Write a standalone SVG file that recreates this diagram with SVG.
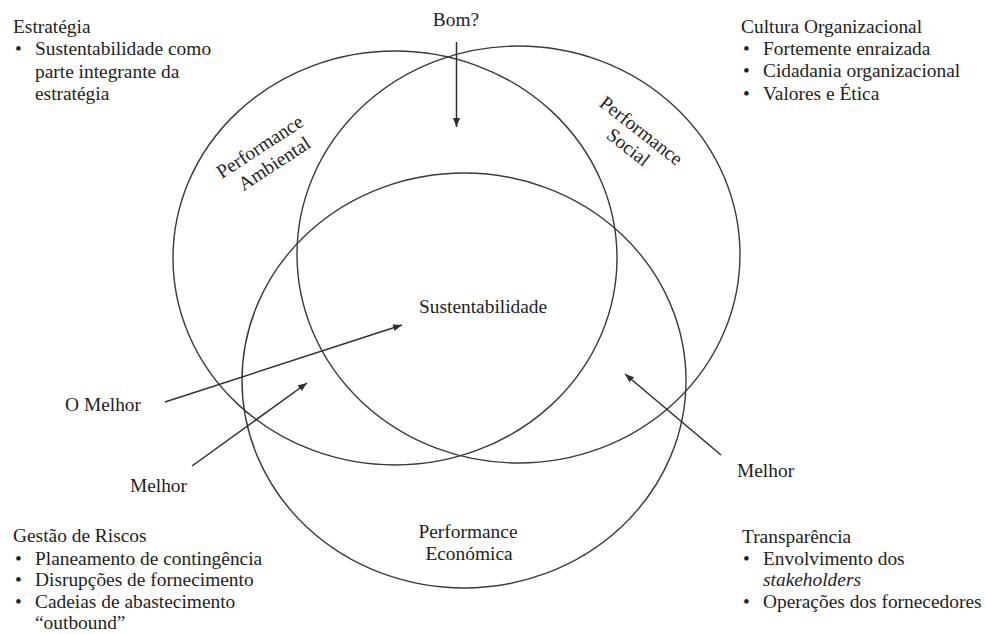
<svg xmlns="http://www.w3.org/2000/svg" width="986" height="634" viewBox="0 0 986 634">
<style>
text{font-family:"Liberation Serif",serif;font-size:19.4px;fill:#1e1e1e}
.ring{fill:none;stroke:#3a3a3a;stroke-width:1.4}
.arr{fill:none;stroke:#2e2e2e;stroke-width:1.5;marker-end:url(#ah)}
.mid{text-anchor:middle}
</style>
<defs>
<marker id="ah" markerWidth="10" markerHeight="8" refX="9" refY="3.5" orient="auto" markerUnits="userSpaceOnUse">
<path d="M0,0 L9,3.5 L0,7 z" fill="#2e2e2e"/>
</marker>
</defs>
<rect width="986" height="634" fill="#ffffff"/>
<g id="ambiental">
<ellipse class="ring" cx="395" cy="258" rx="222" ry="207"/>
<g transform="translate(260,147) rotate(-33)"><text class="mid" y="6">Performance</text><text class="mid" x="3" y="28">Ambiental</text></g>
</g>
<g id="social">
<ellipse class="ring" cx="518.5" cy="254.5" rx="221.5" ry="208.5"/>
<g transform="translate(641,131) rotate(38)"><text class="mid" y="6">Performance</text><text class="mid" y="27">Social</text></g>
</g>
<g id="economica">
<ellipse class="ring" cx="464" cy="380.5" rx="222" ry="207.5"/>
<text class="mid" x="468" y="538">Performance</text>
<text class="mid" x="469" y="560">Económica</text>
</g>
<g id="sustentabilidade"><text x="419" y="313">Sustentabilidade</text></g>
<g id="bom"><text class="mid" x="456" y="26">Bom?</text></g>
<g id="o-melhor"><text x="141" y="411" text-anchor="end">O Melhor</text></g>
<g id="melhor-esq"><text x="187" y="492" text-anchor="end">Melhor</text></g>
<g id="melhor-dir"><text x="737" y="477">Melhor</text></g>
<g id="estrategia">
<text x="13" y="33">Estratégia</text>
<text x="15" y="55">•</text><text x="35" y="55">Sustentabilidade como</text>
<text x="35" y="78">parte integrante da</text>
<text x="35" y="100">estratégia</text>
</g>
<g id="cultura">
<text x="741" y="33">Cultura Organizacional</text>
<text x="743" y="55">•</text><text x="763" y="55">Fortemente enraizada</text>
<text x="743" y="77">•</text><text x="763" y="77">Cidadania organizacional</text>
<text x="743" y="100">•</text><text x="763" y="100">Valores e Ética</text>
</g>
<g id="riscos">
<text x="13" y="542">Gestão de Riscos</text>
<text x="15" y="565">•</text><text x="35" y="565">Planeamento de contingência</text>
<text x="15" y="586">•</text><text x="35" y="586">Disrupções de fornecimento</text>
<text x="15" y="608">•</text><text x="35" y="608">Cadeias de abastecimento</text>
<text x="35" y="629">“outbound”</text>
</g>
<g id="transparencia">
<text x="742" y="543">Transparência</text>
<text x="743" y="565">•</text><text x="763" y="565">Envolvimento dos</text>
<text x="763" y="586" font-style="italic">stakeholders</text>
<text x="743" y="608">•</text><text x="763" y="608">Operações dos fornecedores</text>
</g>
<g id="connectors">
<line class="arr" x1="456.5" y1="42" x2="456.5" y2="127"/>
<line class="arr" x1="165" y1="402" x2="402" y2="325"/>
<line class="arr" x1="192" y1="466" x2="307" y2="383"/>
<line class="arr" x1="721" y1="455" x2="625" y2="374"/>
</g>
</svg>
